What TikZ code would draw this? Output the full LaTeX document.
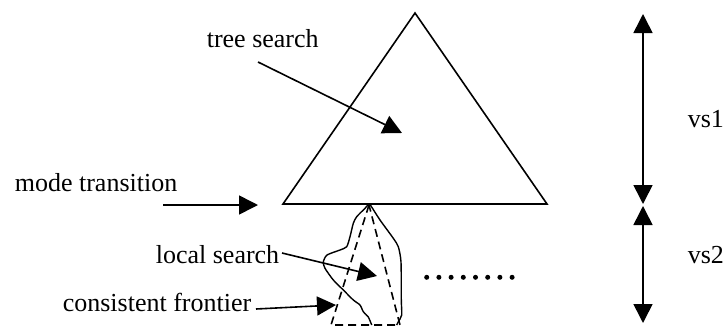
\documentclass[tikz,border=0pt]{standalone}
\usepackage{fontspec}
\setmainfont{Liberation Serif}
\usetikzlibrary{arrows.meta}
\begin{document}
\begin{tikzpicture}[x=1pt,y=-1pt,
  line width=1.6pt,
  lbl/.style={inner sep=0pt,font=\fontsize{26}{30}\selectfont},
  arr/.style={-{Triangle[length=19pt,width=19pt]}},
  dbl/.style={{Triangle[length=19pt,width=19pt]}-{Triangle[length=19pt,width=19pt]}},
  frontier/.style={dash pattern=on 8pt off 5pt},
  dotmark/.style={circle,fill,inner sep=0pt,minimum size=5pt}]
\useasboundingbox (0,0) rectangle (723,327);

% search tree
\coordinate (apex) at (415,13);
\coordinate (bl) at (283,204);
\coordinate (br) at (547,204);
\draw[line join=miter] (apex) -- (bl) -- (br) -- cycle;

% consistent frontier (dashed) and local search region (solid)
\coordinate (fa) at (369,205);
\coordinate (fl) at (331,325);
\coordinate (fr) at (400,325);
\draw[frontier] (fa) -- (fl) -- (fr) -- cycle;
\draw[line width=1.4pt] plot[smooth,tension=0.4] coordinates {
  (371.7,325) (368.3,317) (363.3,311.7) (360,305) (353.3,300) (343.3,290)
  (333.3,280) (325,268.3) (323.3,262) (327,255) (340,250) (346.7,246.7)
  (350,236.7) (353.3,223.3) (356.7,216.7) (365,208.3) (369,204) (371,206)
  (380,220) (393.3,238.3) (398.3,246.7) (401,262) (401.3,300) (401.7,315)
  (398.3,321.7) (396.7,325)};

% labels
\node[lbl,anchor=base west] (ts) at (206,47) {tree search};
\node[lbl,anchor=base west] (mt) at (14,191) {mode transition};
\node[lbl,anchor=base west] (ls) at (155,263) {local search};
\node[lbl,anchor=base west] (cf) at (62,311) {consistent frontier};
\node[lbl,anchor=base west] (v1) at (687,127) {vs1};
\node[lbl,anchor=base west] (v2) at (687,263) {vs2};

% pointer arrows
\coordinate (tsFrom) at (258,62);
\coordinate (tsTo) at (402,133);
\draw[arr] (tsFrom) -- (tsTo);
\coordinate (mtFrom) at (163,205);
\coordinate (mtTo) at (258,205);
\draw[arr] (mtFrom) -- (mtTo);
\coordinate (lsFrom) at (282,253);
\coordinate (lsTo) at (377,276);
\draw[arr] (lsFrom) -- (lsTo);
\coordinate (cfFrom) at (256,309);
\coordinate (cfTo) at (336,305);
\draw[arr] (cfFrom) -- (cfTo);

% depth ranges
\coordinate (r1) at (643,14);
\coordinate (r2) at (643,204);
\coordinate (r3) at (643,206);
\coordinate (r4) at (643,323);
\draw[dbl] (r1) -- (r2);
\draw[dbl] (r3) -- (r4);

% further local searches
\foreach \i in {0,...,7}
  \node[dotmark] (d\i) at (426.7+12.2*\i,277.3) {};
\end{tikzpicture}
\end{document}
